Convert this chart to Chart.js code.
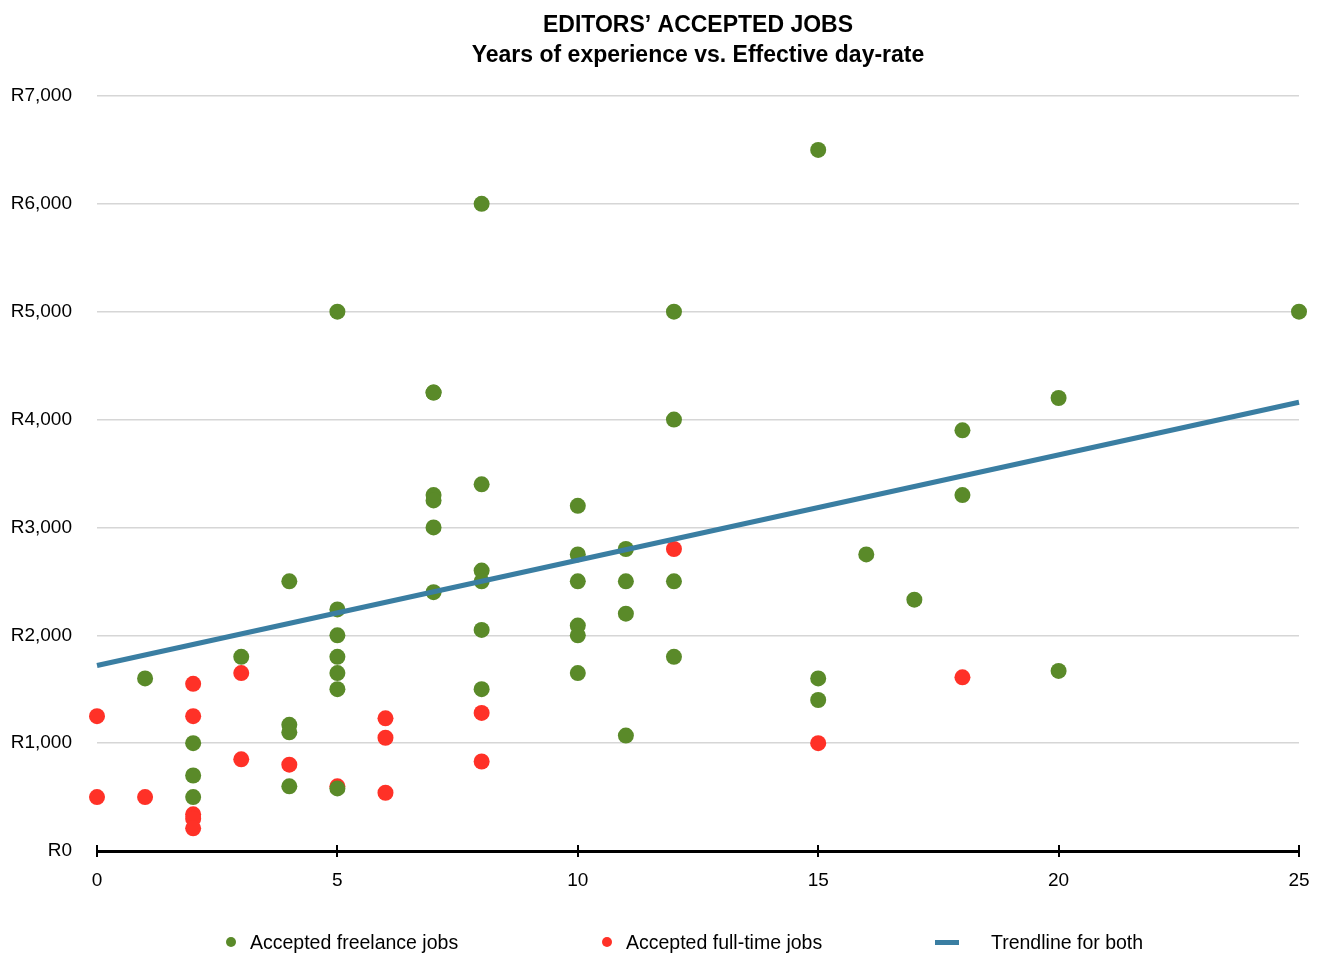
<!DOCTYPE html>
<html>
<head>
<meta charset="utf-8">
<script src="https://cdn.jsdelivr.net/npm/chart.js@4/dist/chart.umd.min.js"></script>
<style>
  html, body { margin: 0; padding: 0; background: #fff; }
  #wrap { width: 1318px; height: 953px; }
</style>
</head>
<body>
<div id="wrap"><canvas id="chart" width="1318" height="953"></canvas></div>
<script>
// years of experience / effective day-rate (R)
const freelanceX = [1, 2, 2, 2, 3, 4, 4, 4, 4, 5, 5, 5, 5, 5, 5, 5,
    7, 7, 7, 7, 7, 7, 8, 8, 8, 8, 8, 8, 10, 10, 10, 10, 10, 10,
    11, 11, 11, 11, 12, 12, 12, 12, 15, 15, 15, 16, 17, 18, 18, 20, 20, 25];
const freelanceY = [1600, 1000, 700, 500, 1800, 2500, 1170, 1100, 600, 5000, 2240, 2000, 1800, 1650, 1500, 580,
    4250, 4250, 3300, 3250, 3000, 2400, 6000, 3400, 2600, 2500, 2050, 1500, 3200, 2750, 2500, 2090, 2000, 1650,
    2800, 2500, 2200, 1070, 5000, 4000, 2500, 1800, 6500, 1600, 1400, 2750, 2330, 3900, 3300, 4200, 1670, 5000];

const fullTimeX = [0, 0, 1, 2, 2, 2, 2, 2, 3, 3, 4, 5, 6, 6, 6, 8, 8, 12, 15, 18];
const fullTimeY = [1250, 500, 500, 1550, 1250, 340, 300, 210, 1650, 850, 800, 600, 1230, 1050, 540, 1280, 830, 2800, 1000, 1610];

const trendX = [0, 25];
const trendY = [1720, 4160];

const titleLines = ['EDITORS\u2019 ACCEPTED JOBS', 'Years of experience vs. Effective day-rate'];
const xTicks = [0, 5, 10, 15, 20, 25];
const yMax = 7000;

const GREEN = '#5a8a29';
const RED = '#ff3127';
const BLUE = '#3a7ea2';
const FONT = '"Liberation Sans", Arial, Helvetica, sans-serif';

function toPoints(xs, ys) {
    return xs.map((x, i) => ({ x: x, y: ys[i] }));
}

// title centred over the plot area
const plotTitle = {
    id: 'plotTitle',
    afterDraw(chart) {
        const ctx = chart.ctx;
        const a = chart.chartArea;
        const cx = (a.left + a.right) / 2;
        ctx.save();
        ctx.font = 'bold 23px ' + FONT;
        ctx.fillStyle = '#000';
        ctx.textAlign = 'center';
        ctx.textBaseline = 'middle';
        ctx.fillText(titleLines[0], cx, 26);
        ctx.fillText(titleLines[1], cx, 56);
        ctx.restore();
    }
};

// x axis tick marks crossing the axis line
const axisTicks = {
    id: 'axisTicks',
    afterDatasetsDraw(chart) {
        const ctx = chart.ctx;
        const xs = chart.scales.x;
        const y0 = chart.chartArea.bottom;
        ctx.save();
        ctx.strokeStyle = '#000';
        ctx.lineWidth = 2;
        xTicks.forEach(t => {
            const px = Math.round(xs.getPixelForValue(t));
            ctx.beginPath();
            ctx.moveTo(px, y0 - 6);
            ctx.lineTo(px, y0 + 6);
            ctx.stroke();
        });
        ctx.restore();
    }
};

// legend along the bottom, spaced like the original
const bottomLegend = {
    id: 'bottomLegend',
    afterDraw(chart) {
        const ctx = chart.ctx;
        const ds = chart.data.datasets;
        const y = 944;
        ctx.save();
        ctx.font = '19.5px ' + FONT;
        ctx.textBaseline = 'middle';

        ctx.fillStyle = ds[0].backgroundColor;
        ctx.beginPath(); ctx.arc(231, 942, 5, 0, Math.PI * 2); ctx.fill();
        ctx.fillStyle = '#000';
        ctx.fillText(ds[0].label, 250, y);

        ctx.fillStyle = ds[1].backgroundColor;
        ctx.beginPath(); ctx.arc(607, 942, 5, 0, Math.PI * 2); ctx.fill();
        ctx.fillStyle = '#000';
        ctx.fillText(ds[1].label, 626, y);

        ctx.fillStyle = ds[2].borderColor;
        ctx.fillRect(935, 940, 24, 5);
        ctx.fillStyle = '#000';
        ctx.fillText(ds[2].label, 991, y);
        ctx.restore();
    }
};

const config = {
    type: 'scatter',
    data: {
        datasets: [
            {
                label: 'Accepted freelance jobs',
                data: toPoints(freelanceX, freelanceY),
                backgroundColor: GREEN,
                borderColor: GREEN,
                pointRadius: 8,
                pointHoverRadius: 8,
                borderWidth: 0,
                clip: false,
                order: 1
            },
            {
                label: 'Accepted full-time jobs',
                data: toPoints(fullTimeX, fullTimeY),
                backgroundColor: RED,
                borderColor: RED,
                pointRadius: 8,
                pointHoverRadius: 8,
                borderWidth: 0,
                clip: false,
                order: 2
            },
            {
                type: 'line',
                label: 'Trendline for both',
                data: toPoints(trendX, trendY),
                borderColor: BLUE,
                backgroundColor: BLUE,
                borderWidth: 5,
                pointRadius: 0,
                fill: false,
                clip: false,
                order: 0
            }
        ]
    },
    options: {
        responsive: false,
        animation: false,
        layout: { autoPadding: false, padding: { left: 0, right: 19, top: 96, bottom: 0 } },
        plugins: {
            legend: { display: false },
            tooltip: { enabled: false },
            title: { display: false }
        },
        scales: {
            x: {
                type: 'linear',
                min: 0,
                max: 25,
                afterBuildTicks: (scale) => { scale.ticks = xTicks.map(v => ({ value: v })); },
                afterFit: (scale) => { scale.height = 102; scale.paddingRight = 0; scale.paddingLeft = 0; },
                grid: { display: true, drawOnChartArea: false, drawTicks: false },
                border: { display: true, color: '#000', width: 3 },
                ticks: {
                    color: '#000',
                    padding: 18,
                    font: { family: FONT, size: 19 },
                    maxRotation: 0
                }
            },
            y: {
                min: 0,
                max: yMax,
                afterFit: (scale) => { scale.width = 97; scale.paddingTop = 0; scale.paddingBottom = 0; },
                grid: { color: '#d6d6d6', lineWidth: 1.5, drawTicks: false },
                border: { display: false },
                ticks: {
                    stepSize: 1000,
                    color: '#000',
                    padding: 25,
                    font: { family: FONT, size: 19 },
                    callback: (v) => 'R' + Number(v).toLocaleString('en-US')
                }
            }
        }
    },
    plugins: [plotTitle, axisTicks, bottomLegend]
};

new Chart(document.getElementById('chart').getContext('2d'), config);
</script>
</body>
</html>
